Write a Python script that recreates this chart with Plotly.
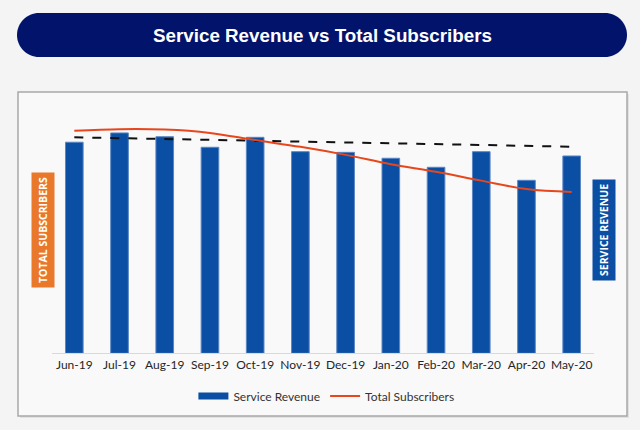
import plotly.graph_objects as go

months = ["Jun-19", "Jul-19", "Aug-19", "Sep-19", "Oct-19", "Nov-19",
          "Dec-19", "Jan-20", "Feb-20", "Mar-20", "Apr-20", "May-20"]
service_revenue = [250, 261, 256.5, 244, 255.8, 238.8, 238, 231, 220.3, 238.8, 204.9, 233.7]
total_subscribers = [52.7, 53.1, 53.0, 52.2, 50.5, 48.9, 47.0, 44.8, 43.0, 40.9, 38.9, 38.2]
trend_months = ["Jun-19", "May-20"]
trend_values = [255.8, 244.7]

W, H = 640, 430


def px(x):
    return x / W


def py(y):
    return 1 - y / H


def pill_path(x0, y0, x1, y1, r):
    k = 0.5523 * r
    pts = [
        ("M", [(x0 + r, y0)]),
        ("L", [(x1 - r, y0)]),
        ("C", [(x1 - r + k, y0), (x1, y0 + r - k), (x1, y0 + r)]),
        ("L", [(x1, y1 - r)]),
        ("C", [(x1, y1 - r + k), (x1 - r + k, y1), (x1 - r, y1)]),
        ("L", [(x0 + r, y1)]),
        ("C", [(x0 + r - k, y1), (x0, y1 - r + k), (x0, y1 - r)]),
        ("L", [(x0, y0 + r)]),
        ("C", [(x0, y0 + r - k), (x0 + r - k, y0), (x0 + r, y0)]),
    ]
    s = ""
    for cmd, ps in pts:
        s += cmd + " " + " ".join(f"{px(a):.5f},{py(b):.5f}" for a, b in ps) + " "
    return s + "Z"


BAR_BLUE = "#0a4fa3"
fig = go.Figure()

fig.add_trace(go.Bar(
    x=months, y=service_revenue, name="Service Revenue", showlegend=False,
    marker=dict(color=BAR_BLUE, line=dict(color="#5b86c4", width=1)),
    yaxis="y",
))
# legend entry for the bars drawn as a wide flat swatch like the reference
fig.add_trace(go.Scatter(
    x=[None], y=[None], name="Service Revenue", mode="lines",
    line=dict(color=BAR_BLUE, width=7), yaxis="y",
))
fig.add_trace(go.Scatter(
    x=trend_months, y=trend_values, mode="lines", showlegend=False,
    line=dict(color="#111111", width=2, dash="dash"), yaxis="y",
))
fig.add_trace(go.Scatter(
    x=months, y=total_subscribers, name="Total Subscribers", mode="lines",
    line=dict(color="#e8461c", width=2, shape="spline", smoothing=1),
    yaxis="y2",
))

font_main = "Lato, 'Open Sans', sans-serif"

fig.update_layout(
    width=W, height=H,
    margin=dict(l=0, r=0, t=0, b=0),
    paper_bgcolor="#f4f4f4",
    plot_bgcolor="rgba(0,0,0,0)",
    bargap=0.61,
    showlegend=True,
    legend=dict(orientation="h", x=0.51, xanchor="center", y=py(396), yanchor="middle",
                font=dict(family=font_main, size=12, color="#333333"),
                bgcolor="rgba(0,0,0,0)", itemwidth=30, traceorder="normal"),
    xaxis=dict(domain=[px(51.7), px(594.3)], showline=True, linecolor="#d9d9d9",
               linewidth=1, ticks="", showgrid=False,
               tickfont=dict(family=font_main, size=12, color="#262626")),
    yaxis=dict(domain=[py(353.3), py(100)], range=[0, 300], visible=False, showgrid=False),
    yaxis2=dict(overlaying="y", range=[0, 60], visible=False, showgrid=False),
    shapes=[
        dict(type="rect", xref="paper", yref="paper", x0=px(20), x1=px(629), y0=py(418), y1=py(94),
             fillcolor="#e2e2e2", line=dict(width=0), layer="below"),
        dict(type="rect", xref="paper", yref="paper", x0=px(18), x1=px(627), y0=py(416), y1=py(92),
             fillcolor="#f9f9f9", line=dict(color="#a8a8a8", width=1.5), layer="below"),
        dict(type="path", xref="paper", yref="paper", path=pill_path(17, 13, 627, 57, 22),
             fillcolor="#02136b", line=dict(width=0), layer="below"),
    ],
    annotations=[
        dict(text="<b>Service Revenue vs Total Subscribers</b>", xref="paper", yref="paper",
             x=px(322), y=py(35), xanchor="center", yanchor="middle", showarrow=False,
             font=dict(family="Liberation Sans, Arial, sans-serif", size=18.8, color="white")),
        dict(text="<b>TOTAL SUBSCRIBERS</b>", xref="paper", yref="paper",
             x=px(42.5), y=py(230.5), xanchor="center", yanchor="middle",
             showarrow=False, textangle=-90,
             bgcolor="#ea782b", borderpad=4,
             font=dict(family="Open Sans, sans-serif", size=10.5, color="white")),
        dict(text="<b>SERVICE REVENUE</b>", xref="paper", yref="paper",
             x=px(603.5), y=py(230.5), xanchor="center", yanchor="middle",
             showarrow=False, textangle=-90,
             bgcolor=BAR_BLUE, borderpad=4,
             font=dict(family="Open Sans, sans-serif", size=10.5, color="white")),
    ],
)

fig.write_html("out.html", config={"displayModeBar": False},
               post_script="document.body.style.margin='0';document.body.style.overflow='hidden';")
